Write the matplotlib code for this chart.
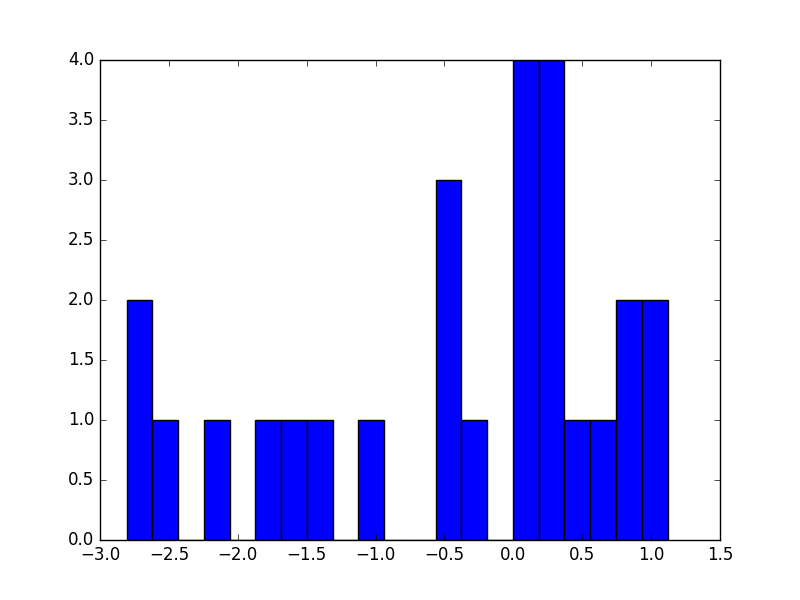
import numpy as np
import matplotlib
matplotlib.use('Agg')
import matplotlib.pyplot as plt

plt.style.use('classic')

# histogram: 21 equal bins
binLo = -2.807
binHi = 1.119
counts = [2, 1, 0, 1, 0, 1, 1, 1, 0, 1, 0, 0, 3, 1, 0, 4, 4, 1, 1, 2, 2]

edges = np.linspace(binLo, binHi, len(counts) + 1)
centers = (edges[:-1] + edges[1:]) / 2

fig = plt.figure(figsize=(8, 6), dpi=100)
ax = fig.add_subplot(1, 1, 1)
ax.hist(centers, bins=edges, weights=counts, color='b', edgecolor='k')
ax.set_xlim(-3.0, 1.5)
ax.set_ylim(0, 4.0)

fig.savefig('out.png', dpi=100)
